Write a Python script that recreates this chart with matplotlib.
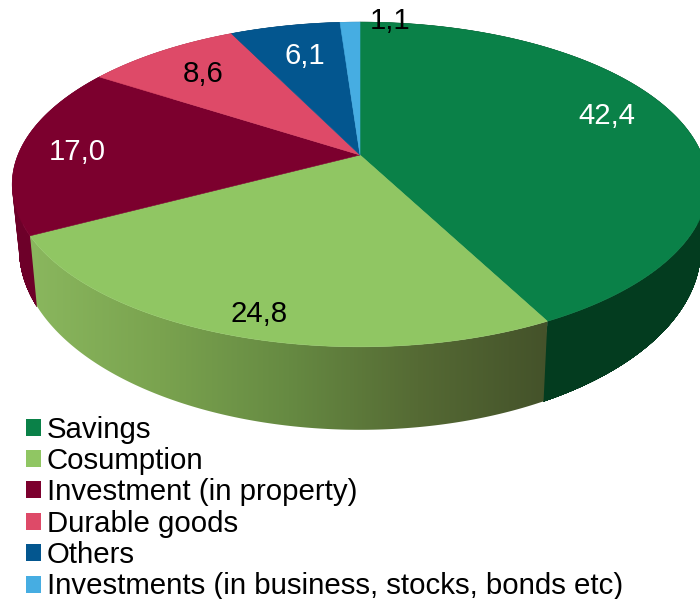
import numpy as np
import matplotlib
matplotlib.use("Agg")
import matplotlib.pyplot as plt
from matplotlib.colors import LinearSegmentedColormap
from matplotlib.patches import Patch, Polygon

categories = ["Savings", "Cosumption", "Investment (in property)", "Durable goods",
              "Others", "Investments (in business, stocks, bonds etc)"]
values = [42.4, 24.8, 17.0, 8.6, 6.1, 1.1]
value_labels = ["42,4", "24,8", "17,0", "8,6", "6,1", "1,1"]

top_colors = ["#0a8148", "#90c663", "#7c002e", "#de4a68", "#03568f", "#46ade2"]
side_colors = ["#033c1f", "#6b8c45", "#6d0029", "#a03048", "#023a60", "#2c7aa0"]
label_colors = ["white", "black", "white", "black", "white", "black"]
label_xy = [(607, 116), (259, 314), (77, 152), (203, 74), (305, 56), (390, 21)]

CX, CY, R, A, K = 360, 155, 342, 157, 0.1815
R2, A2, DY = 335, 175, 61
FONT = "Liberation Sans"
FS = 21.15

fig = plt.figure(figsize=(7.0, 5.99), dpi=100)
ax = fig.add_axes([0, 0, 1, 1])
ax.set_xlim(0, 700)
ax.set_ylim(599, 0)
ax.axis("off")


def arc(a0, a1, rad, amp, dy):
    t = np.radians(np.linspace(a0, a1, max(int((a1 - a0) * 2), 2)))
    c, s = np.sin(t), np.cos(t)
    w = 1 / (1 + K * s)
    return np.column_stack([CX + rad * c * w, CY + dy - amp * s * w])


edges = np.concatenate([[0], np.cumsum(values)]) * 3.6
spans = list(zip(edges[:-1], edges[1:]))

# Side walls, swept from the top rim to the bottom rim, before the top faces
for i, (a0, a1) in enumerate(spans):
    upper = arc(a0, a1, R, A, 0)
    lower = arc(a0, a1, R2, A2, DY)
    poly = np.vstack([upper, lower[::-1]])
    if i == 1:
        patch = Polygon(poly, closed=True, facecolor="none", edgecolor="none")
        ax.add_patch(patch)
        cmap = LinearSegmentedColormap.from_list(
            "wall", ["#8ab75e", "#7aa34f", "#668a42", "#556a34", "#44522a"])
        im = ax.imshow(np.linspace(0, 1, 256)[None, :], cmap=cmap, aspect="auto",
                       extent=[poly[:, 0].min(), poly[:, 0].max(),
                               poly[:, 1].max(), poly[:, 1].min()], zorder=1.5)
        im.set_clip_path(patch)
    else:
        for f in np.linspace(0, 1, 16)[:-1]:
            rim = upper + (lower - upper) * f
            band = np.vstack([rim, lower[::-1]])
            ax.fill(band[:, 0], band[:, 1], color=side_colors[i], lw=0.4, zorder=1)

# Top faces
for i, (a0, a1) in enumerate(spans):
    pts = np.vstack([[CX, CY], arc(a0, a1, R, A, 0)])
    ax.fill(pts[:, 0], pts[:, 1], color=top_colors[i], lw=0.4, zorder=2)

ax.set_xlim(0, 700)
ax.set_ylim(599, 0)

for lab, col, (x, y) in zip(value_labels, label_colors, label_xy):
    ax.text(x, y, lab, color=col, fontsize=FS, family=FONT,
            ha="center", va="center", zorder=3)

handles = [Patch(facecolor=c, edgecolor="none") for c in top_colors]
ax.legend(handles, categories, loc="lower left", bbox_to_anchor=(26, 600.5),
          bbox_transform=ax.transData, frameon=False,
          prop={"family": FONT, "size": FS}, borderpad=0, borderaxespad=0,
          handlelength=0.51, handleheight=0.51, handletextpad=0.2,
          labelspacing=0.115)

fig.savefig("out.png", dpi=100, facecolor="white")
